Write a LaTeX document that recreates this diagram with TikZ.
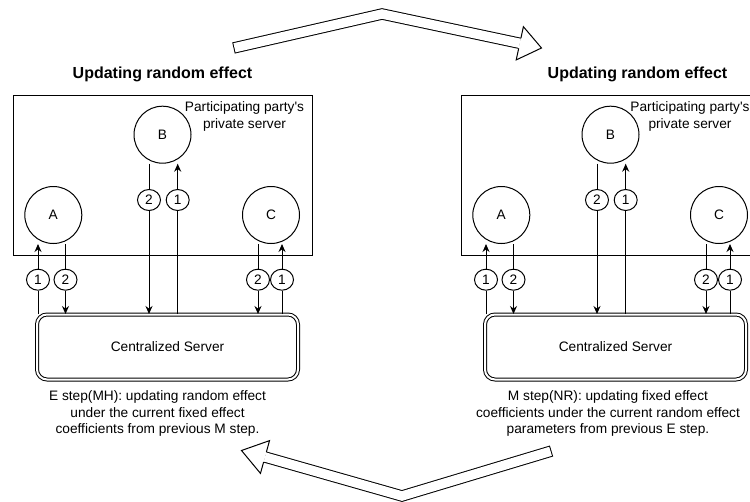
\documentclass[tikz,border=0pt]{standalone}
\usepackage{fontspec}
\setmainfont{Liberation Sans}[Ligatures=TeXOff]
\usepackage{tikz}
\usetikzlibrary{arrows.meta,shapes.geometric,calc}

\begin{document}
\begin{tikzpicture}[
  x=1pt, y=-1pt, line width=1pt,
  every node/.style={font=\fontsize{13.7}{16.5}\selectfont},
  heading/.style={font=\fontsize{16}{19}\selectfont\bfseries},
  panel/.style={draw, minimum width=299pt, minimum height=160pt},
  party/.style={circle, draw, minimum size=57pt, inner sep=0pt},
  tag/.style={ellipse, draw, minimum width=23pt, minimum height=21pt, inner sep=0pt},
  central/.style={draw, double, double distance=2pt, rounded corners=10pt, minimum width=261pt, minimum height=65pt},
  link/.style={-{Stealth[length=8pt,width=7pt]}},
  shaft/.style={line width=11.4pt, line join=miter},
  hollow/.style={line width=9.4pt, white, line join=miter}
]
\useasboundingbox (0,0) rectangle (750,501);
\clip (0,0) rectangle (750,501);

% left: E step
\node[heading] (ltitle) at (162.5,74) {Updating random effect};
\node[panel] (lpanel) at (162.5,175) {};
\node[align=center] (lnote) at (244.5,116.5) {Participating party's\\private server};
\node[party] (lA) at (53.3,215) {A};
\node[party] (lB) at (162.5,134.7) {B};
\node[party] (lC) at (271,215) {C};
\node[central] (lsrv) at (167.5,347) {Centralized Server};
\node[tag] (lA1) at (38,279.7) {1};
\node[tag] (lA2) at (65.5,279.7) {2};
\node[tag] (lB2) at (149,200) {2};
\node[tag] (lB1) at (177.7,200) {1};
\node[tag] (lC2) at (258,279.7) {2};
\node[tag] (lC1) at (282,279.7) {1};
\draw[link] (lA1 |- lsrv.north) -- (lA1) -- (lA1 |- lA.south);
\draw[link] (lA2 |- lA.south) -- (lA2) -- (lA2 |- lsrv.north);
\draw[link] (lB2 |- lB.south) -- (lB2) -- (lB2 |- lsrv.north);
\draw[link] (lB1 |- lsrv.north) -- (lB1) -- (lB1 |- lB.south);
\draw[link] (lC2 |- lC.south) -- (lC2) -- (lC2 |- lsrv.north);
\draw[link] (lC1 |- lsrv.north) -- (lC1) -- (lC1 |- lC.south);
\node[align=center] (lcap) at (157.5,413.5) {E step(MH): updating random effect\\under the current fixed effect\\coefficients from previous M step.};

% right: M step
\node[heading] (rtitle) at (637.5,74) {Updating random effect};
\node[panel] (rpanel) at (610.5,175) {};
\node[align=center] (rnote) at (690,116.5) {Participating party's\\private server};
\node[party] (rA) at (501.3,215) {A};
\node[party] (rB) at (610.5,134.7) {B};
\node[party] (rC) at (719,215) {C};
\node[central] (rsrv) at (615.5,347) {Centralized Server};
\node[tag] (rA1) at (486,279.7) {1};
\node[tag] (rA2) at (513.5,279.7) {2};
\node[tag] (rB2) at (597,200) {2};
\node[tag] (rB1) at (625.7,200) {1};
\node[tag] (rC2) at (706,279.7) {2};
\node[tag] (rC1) at (730,279.7) {1};
\draw[link] (rA1 |- rsrv.north) -- (rA1) -- (rA1 |- rA.south);
\draw[link] (rA2 |- rA.south) -- (rA2) -- (rA2 |- rsrv.north);
\draw[link] (rB2 |- rB.south) -- (rB2) -- (rB2 |- rsrv.north);
\draw[link] (rB1 |- rsrv.north) -- (rB1) -- (rB1 |- rB.south);
\draw[link] (rC2 |- rC.south) -- (rC2) -- (rC2 |- rsrv.north);
\draw[link] (rC1 |- rsrv.north) -- (rC1) -- (rC1 |- rC.south);
\node[align=center] (rcap) at (608,413.5) {M step(NR): updating fixed effect\\coefficients under the current random effect\\parameters from previous E step.};

% big arrows between the steps
\coordinate (t1) at (233.5,48);
\coordinate (m1) at (382,14);
\coordinate (h1) at (519.8,43.3);
\coordinate (p1) at (541.5,48);
\draw[shaft] (t1) -- (m1) -- (h1);
\draw[hollow, shorten <=1pt] (t1) -- (m1) -- (h1);
\draw[fill=white, line join=miter] ($(h1)!5.2pt!90:(p1)$) -- ($(h1)!17pt!90:(p1)$) -- (p1) -- ($(h1)!17pt!-90:(p1)$) -- ($(h1)!5.2pt!-90:(p1)$);

\coordinate (t2) at (551.5,451);
\coordinate (m2) at (402,496);
\coordinate (h2) at (265,457);
\coordinate (p2) at (241.5,450.5);
\draw[shaft] (t2) -- (m2) -- (h2);
\draw[hollow, shorten <=1pt] (t2) -- (m2) -- (h2);
\draw[fill=white, line join=miter] ($(h2)!5.2pt!90:(p2)$) -- ($(h2)!17pt!90:(p2)$) -- (p2) -- ($(h2)!17pt!-90:(p2)$) -- ($(h2)!5.2pt!-90:(p2)$);
\end{tikzpicture}
\end{document}
